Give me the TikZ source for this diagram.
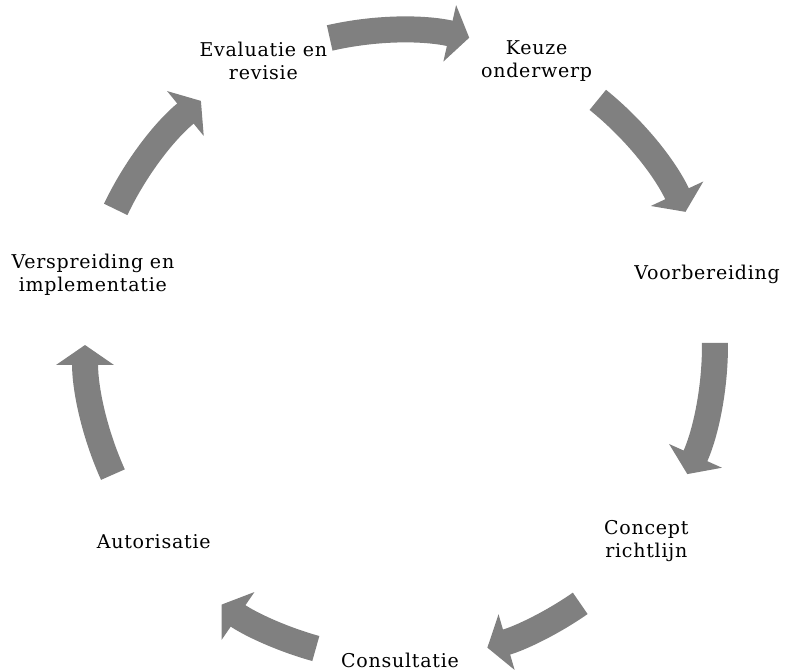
\documentclass[tikz,border=0pt]{standalone}
\usepackage{fontspec}
\setmainfont{DejaVu Serif}[LetterSpace=4]
\usetikzlibrary{arrows.meta}
\begin{document}
\begin{tikzpicture}[x=1pt,y=1pt,
  lbl/.style={align=center, font=\fontsize{19}{23}\selectfont, text=black, inner sep=0pt},
  cyc/.style={draw=black!50, line width=26pt, -{Triangle[width=57pt,length=20pt]}}]
\useasboundingbox (0,0) rectangle (787,671);
\coordinate (C) at (400,326);
\node[lbl] (keuze) at ([shift={(64.29:315)}]C) {Keuze\\onderwerp};
\node[lbl] (voorb) at ([shift={(12.86:315)}]C) {Voorbereiding};
\node[lbl] (concept) at ([shift={(-38.57:315)}]C) {Concept\\richtlijn};
\node[lbl] (consult) at ([shift={(-90:315)}]C) {Consultatie};
\node[lbl] (autor) at ([shift={(-141.43:315)}]C) {Autorisatie};
\node[lbl] (versp) at ([shift={(167.14:315)}]C) {Verspreiding en\\implementatie};
\node[lbl] (eval) at ([shift={(115.71:315)}]C) {Evaluatie en\\revisie};
\foreach \sa/\ea [count=\i] in {102.9/77.3, 51.1/25.0, 0.4/-24.2, -55.1/-73.9, -105.5/-124.5, -155.7/-180, 154.5/129.2} {
  \coordinate (s\i) at ([shift={(\sa:315)}]C);
  \draw[cyc] (s\i) arc[start angle=\sa, end angle=\ea, radius=315pt];
}
\end{tikzpicture}
\end{document}
